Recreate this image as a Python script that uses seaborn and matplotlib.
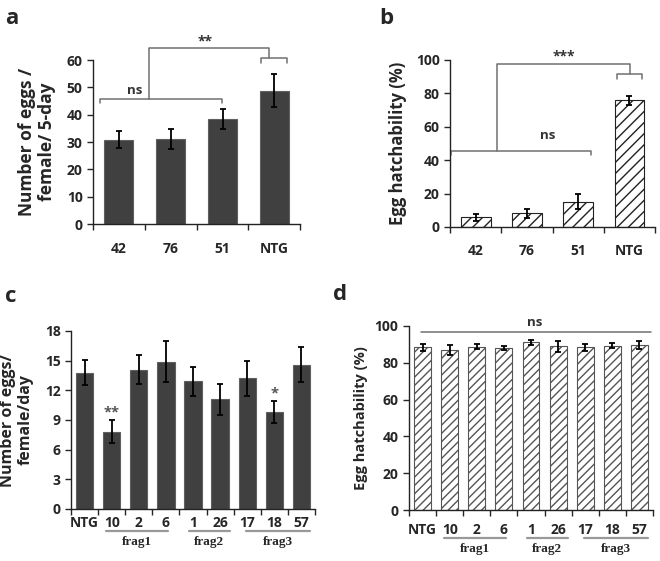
import numpy as np
import pandas as pd
import seaborn as sns
import matplotlib.pyplot as plt
from matplotlib.transforms import blended_transform_factory

# panel a / b: lines 42, 76, 51 vs NTG
lines_ab = ["42", "76", "51", "NTG"]
eggs_5day = [30.8, 31.2, 38.3, 48.8]
eggs_5day_err = [3.1, 3.7, 3.7, 6.1]
hatch_ab = [5.8, 8.2, 15.1, 75.9]
hatch_ab_err = [2.2, 2.7, 4.6, 2.6]

# panel c / d: fragment lines
lines_cd = ["NTG", "10", "2", "6", "1", "26", "17", "18", "57"]
eggs_day = [13.8, 7.8, 14.1, 14.9, 12.9, 11.1, 13.2, 9.8, 14.6]
eggs_day_err = [1.3, 1.15, 1.5, 2.1, 1.5, 1.55, 1.8, 1.1, 1.75]
hatch_cd = [88.4, 87.0, 88.8, 87.9, 91.1, 88.9, 88.4, 89.3, 89.7]
hatch_cd_err = [1.9, 2.9, 1.3, 1.2, 1.2, 2.8, 2.0, 1.3, 2.1]
c_stars = {"10": "**", "18": "*"}
frag_groups = [("frag1", 0.8, 3.08), ("frag2", 3.85, 5.35), ("frag3", 5.95, 8.3)]

sns.set_style("ticks")
plt.rcParams["font.family"] = ["Open Sans", "DejaVu Sans"]
plt.rcParams["font.weight"] = "bold"
plt.rcParams["axes.labelweight"] = "bold"
plt.rcParams["hatch.linewidth"] = 1.0

DARK = "#404040"
GREY = "#707070"


def draw_bars(ax, cats, vals, errs, width, pad, **bar_kw):
    df = pd.DataFrame({"line": cats, "value": vals})
    sns.barplot(data=df, x="line", y="value", ax=ax, errorbar=None,
                width=width, saturation=1, linewidth=0.8, **bar_kw)
    ax.errorbar(np.arange(len(cats)), vals, yerr=errs, fmt="none",
                ecolor="black", elinewidth=1.3, capsize=2.2, capthick=1.3)
    n = len(cats)
    ax.set_xlim(-0.5, n - 0.5)
    ax.set_xticks(np.arange(-0.5, n), minor=True)
    ax.tick_params(axis="x", which="major", length=0, pad=pad, labelsize=10)
    ax.tick_params(axis="x", which="minor", length=4, width=1)
    ax.tick_params(axis="y", length=4, width=1, labelsize=10)
    ax.set_xlabel("")
    for s in ("left", "bottom"):
        ax.spines[s].set_linewidth(1)
        ax.spines[s].set_color("#222222")
    sns.despine(ax=ax)


def line(ax, xs, ys):
    ax.plot(xs, ys, color=GREY, lw=1.1, clip_on=False)


fig = plt.figure(figsize=(6.6, 5.61), dpi=100)

# ---- a
ax_a = fig.add_axes([0.141, 0.6007, 0.314, 0.2923])
draw_bars(ax_a, lines_ab, eggs_5day, eggs_5day_err, 0.56, 13,
          color=DARK, edgecolor="#606060")
ax_a.set_ylim(0, 60)
ax_a.set_yticks(range(0, 61, 10))
ax_a.set_ylabel("Number of eggs /\nfemale/ 5-day", fontsize=12.5, labelpad=8,
                linespacing=1.1)
line(ax_a, [-0.37, -0.37, 1.98, 1.98], [44.2, 45.7, 45.7, 44.2])
ax_a.text(0.31, 46.5, "ns", ha="center", va="bottom", fontsize=9.5, color="#333333")
line(ax_a, [0.58, 0.58, 2.9, 2.9], [45.7, 64.5, 64.5, 60.6])
line(ax_a, [2.74, 2.74, 3.25, 3.25], [59.0, 60.6, 60.6, 59.0])
ax_a.text(1.66, 64.3, "**", ha="center", va="bottom", fontsize=10, color="#333333")

# ---- b
ax_b = fig.add_axes([0.682, 0.5954, 0.3106, 0.2977])
draw_bars(ax_b, lines_ab, hatch_ab, hatch_ab_err, 0.58, 12,
          color="white", edgecolor="#222222", hatch="///")
ax_b.set_ylim(0, 100)
ax_b.set_yticks(range(0, 101, 20))
ax_b.set_ylabel("Egg hatchability (%)", fontsize=12, labelpad=6)
line(ax_b, [-0.49, -0.49, 2.24, 2.24], [43.2, 45.6, 45.6, 43.2])
ax_b.text(1.41, 51, "ns", ha="center", va="bottom", fontsize=9.5, color="#333333")
line(ax_b, [0.41, 0.41, 3.01, 3.01], [45.6, 97.6, 97.6, 91.6])
line(ax_b, [2.75, 2.75, 3.25, 3.25], [88.8, 91.6, 91.6, 88.8])
ax_b.text(1.71, 97.8, "***", ha="center", va="bottom", fontsize=10, color="#333333")

# ---- c
ax_c = fig.add_axes([0.1076, 0.0927, 0.3697, 0.3173])
draw_bars(ax_c, lines_cd, eggs_day, eggs_day_err, 0.64, 5,
          color=DARK, edgecolor="#606060")
ax_c.set_ylim(0, 18)
ax_c.set_yticks(range(0, 19, 3))
ax_c.set_ylabel("Number of eggs/\nfemale/day", fontsize=11.5, labelpad=8,
                linespacing=1.1)
for i, lab in enumerate(lines_cd):
    if lab in c_stars:
        ax_c.text(i, eggs_day[i] + eggs_day_err[i] + 0.1, c_stars[lab],
                  ha="center", va="bottom", fontsize=10.5, color="#555555")

# ---- d
ax_d = fig.add_axes([0.6197, 0.0909, 0.3697, 0.328])
draw_bars(ax_d, lines_cd, hatch_cd, hatch_cd_err, 0.62, 9,
          color="white", edgecolor="#555555", hatch="////")
ax_d.set_ylim(0, 100)
ax_d.set_yticks(range(0, 101, 20))
ax_d.set_ylabel("Egg hatchability (%)", fontsize=10.5, labelpad=5)
line(ax_d, [-0.07, 8.42], [96.6, 96.6])
ax_d.text(4.15, 98.5, "ns", ha="center", va="bottom", fontsize=9.5, color="#333333")

# fragment group lines under c and d
for ax in (ax_c, ax_d):
    tr = blended_transform_factory(ax.transData, ax.transAxes)
    y0 = -0.122 if ax is ax_c else -0.15
    for name, x0, x1 in frag_groups:
        ax.plot([x0, x1], [y0, y0], color="#999999", lw=1.6,
                transform=tr, clip_on=False)
        ax.text((x0 + x1) / 2, y0 - 0.03, name, transform=tr, ha="center", va="top",
                fontsize=9.5, family=["Liberation Serif"], fontweight="bold")

# panel letters
for lab, x, y in [("a", 0.008, 0.967), ("b", 0.575, 0.967),
                  ("c", 0.008, 0.472), ("d", 0.505, 0.475)]:
    fig.text(x, y, lab, fontsize=16, fontweight="bold", va="center")

fig.savefig("out.png", dpi=100)
